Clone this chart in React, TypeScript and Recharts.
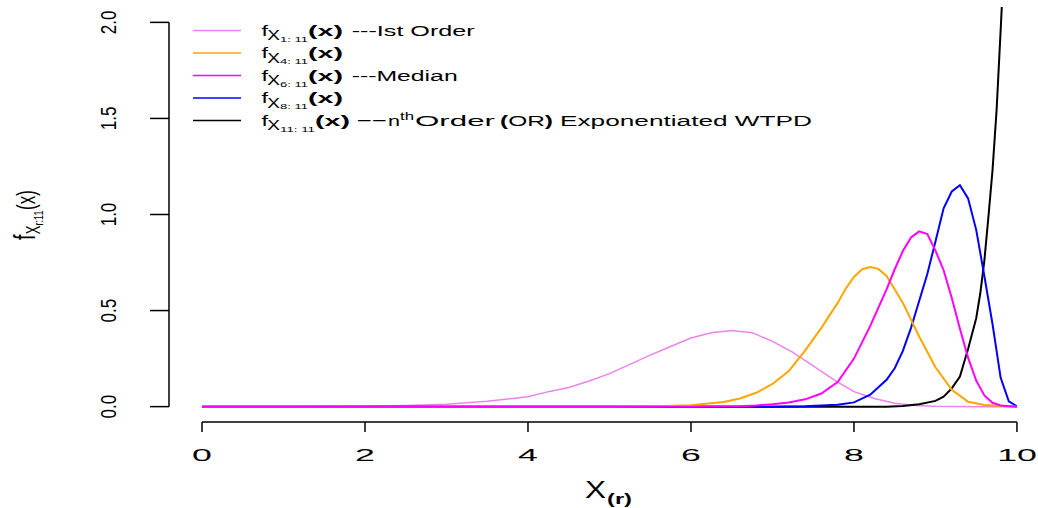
import React from "react";
import { LineChart, Line, XAxis, YAxis, ReferenceLine } from "recharts";

// ---------- data ----------
const xTicks = [0, 2, 4, 6, 8, 10];
const yTicks = [0, 0.5, 1, 1.5, 2];
const yTickLabels = ["0.0", "0.5", "1.0", "1.5", "2.0"];

// f_{X1:11}(x) ---Ist Order (violet)
const order1X = [0, 1, 2, 2.5, 3, 3.5, 4, 4.25, 4.5, 4.75, 5, 5.25, 5.5, 5.75, 6, 6.25, 6.5, 6.75, 7, 7.25, 7.5, 7.75, 8, 8.25, 8.5, 8.75, 9, 9.5, 10];
const order1Y = [0, 0, 0.002, 0.006, 0.013, 0.028, 0.052, 0.078, 0.1, 0.133, 0.172, 0.22, 0.268, 0.313, 0.357, 0.385, 0.396, 0.385, 0.34, 0.282, 0.212, 0.14, 0.078, 0.042, 0.018, 0.006, 0.002, 0, 0];

// f_{X4:11}(x) (orange)
const order4X = [0, 5, 5.6, 6.0, 6.4, 6.6, 6.8, 7.0, 7.2, 7.4, 7.6, 7.8, 7.9, 8.0, 8.1, 8.2, 8.3, 8.4, 8.6, 8.8, 9.0, 9.2, 9.4, 9.6, 10];
const order4Y = [0, 0, 0.002, 0.007, 0.024, 0.042, 0.072, 0.118, 0.185, 0.292, 0.41, 0.54, 0.615, 0.675, 0.715, 0.726, 0.717, 0.68, 0.54, 0.365, 0.205, 0.088, 0.025, 0.008, 0];

// f_{X6:11}(x) ---Median (magenta)
const order6X = [0, 6, 6.6, 6.8, 7.0, 7.2, 7.4, 7.6, 7.8, 8.0, 8.2, 8.4, 8.5, 8.6, 8.7, 8.8, 8.9, 9.0, 9.1, 9.2, 9.3, 9.4, 9.5, 9.6, 9.7, 9.8, 10];
const order6Y = [0, 0, 0.002, 0.006, 0.013, 0.022, 0.038, 0.068, 0.128, 0.25, 0.42, 0.61, 0.715, 0.81, 0.88, 0.912, 0.898, 0.812, 0.71, 0.565, 0.405, 0.255, 0.135, 0.058, 0.02, 0.006, 0];

// f_{X8:11}(x) (blue)
const order8X = [0, 7, 7.4, 7.8, 8.0, 8.2, 8.4, 8.5, 8.6, 8.7, 8.8, 8.9, 9.0, 9.1, 9.2, 9.3, 9.4, 9.5, 9.6, 9.7, 9.8, 9.9, 10];
const order8Y = [0, 0, 0.002, 0.01, 0.022, 0.062, 0.14, 0.2, 0.29, 0.41, 0.55, 0.69, 0.86, 1.032, 1.12, 1.153, 1.084, 0.92, 0.68, 0.43, 0.15, 0.028, 0.002];

// f_{X11:11}(x) --nth Order (black)
const order11X = [0, 8.4, 8.6, 8.8, 9.0, 9.1, 9.2, 9.3, 9.4, 9.5, 9.55, 9.6, 9.65, 9.7, 9.75, 9.8, 9.85];
const order11Y = [0, 0, 0.003, 0.012, 0.03, 0.052, 0.095, 0.157, 0.3, 0.46, 0.59, 0.76, 0.989, 1.23, 1.543, 1.96, 2.4];

const toPoints = (xs: number[], ys: number[]) => xs.map((x, i) => ({ x, y: ys[i] }));

const series = [
  { key: "o1", data: toPoints(order1X, order1Y), color: "#EE82EE", width: 1.5 },
  { key: "o11", data: toPoints(order11X, order11Y), color: "#000000", width: 2 },
  { key: "o8", data: toPoints(order8X, order8Y), color: "#0000FF", width: 2 },
  { key: "o4", data: toPoints(order4X, order4Y), color: "#FFA500", width: 2 },
  { key: "o6", data: toPoints(order6X, order6Y), color: "#FF00FF", width: 2 },
];

// ---------- layout ----------
const W = 1038;
const H = 508;
const X_MIN = -0.405;
const X_MAX = 10.16;
const Y_MIN = -0.08;
const Y_MAX = 2.08;
const FONT = "'Liberation Sans', Arial, Helvetica, sans-serif";

const XTick = (props: any) => {
  const { x, y, payload } = props;
  return (
    <g transform={`translate(${x},${y + 27}) scale(2.1,1)`}>
      <text textAnchor="middle" fontSize={17} fontFamily={FONT} fill="#000">
        {String(payload.value)}
      </text>
    </g>
  );
};

const YTick = (props: any) => {
  const { x, y, payload } = props;
  const idx = yTicks.indexOf(payload.value);
  const label = idx >= 0 ? yTickLabels[idx] : String(payload.value);
  return (
    <g transform={`translate(${x - 32},${y}) scale(1.25,1) rotate(-90)`}>
      <text textAnchor="middle" fontSize={17} fontFamily={FONT} fill="#000">
        {label}
      </text>
    </g>
  );
};

const legendRows = [
  { color: "#EE82EE", sub: "1: 11", tail: "---Ist Order", tailLen: 123 },
  { color: "#FFA500", sub: "4: 11", tail: "", tailLen: 0 },
  { color: "#FF00FF", sub: "6: 11", tail: "---Median", tailLen: 106 },
  { color: "#0000FF", sub: "8: 11", tail: "", tailLen: 0 },
  { color: "#000000", sub: "11: 11", tail: "", tailLen: 0 },
];

const T = (p: any) => (
  <text
    x={p.x}
    y={p.y}
    fontSize={p.fs}
    fontWeight={p.bold ? "bold" : "normal"}
    fontFamily={FONT}
    fill="#000"
    textLength={p.len}
    lengthAdjust="spacingAndGlyphs"
  >
    {p.children}
  </text>
);

const Overlay = () => {
  const legendTop = 30.6;
  const step = 22.5;
  return (
    <svg width={W} height={H} style={{ position: "absolute", left: 0, top: 0, pointerEvents: "none" }}>
      {legendRows.map((r, i) => {
        const ly = legendTop + i * step;
        const last = i === 4;
        const subLen = last ? 35 : 28;
        const px = last ? 315 : 308;
        return (
          <g key={i}>
            <line x1={193} x2={241} y1={ly} y2={ly} stroke={r.color} strokeWidth={1.5} />
            <T x={261.5} y={ly + 5.3} fs={15.4} len={6.5}>f</T>
            <T x={267.3} y={ly + 9.8} fs={15.4} len={12.7}>X</T>
            <T x={280} y={ly + 11} fs={8} len={subLen}>{r.sub}</T>
            <T x={px} y={ly + 5} fs={15.4} bold len={35}>(x)</T>
            {r.tail ? (
              <T x={351.7} y={ly + 5.3} fs={15.4} len={r.tailLen}>{r.tail}</T>
            ) : null}
            {last ? (
              <g>
                <T x={356.7} y={ly + 5.3} fs={15.4} len={30}>{"\u2212\u2212"}</T>
                <T x={388} y={ly + 5.3} fs={15.4} len={12}>n</T>
                <T x={400} y={ly - 1} fs={10} len={14}>th</T>
                <T x={415} y={ly + 5.3} fs={15.4} len={80}>Order</T>
                <text x={500} y={ly + 5.3} fontSize={15.4} fontFamily={FONT} fill="#000" textLength={53} lengthAdjust="spacingAndGlyphs">
                  <tspan fontWeight="bold">(</tspan>OR<tspan fontWeight="bold">)</tspan>
                </text>
                <T x={560} y={ly + 5.3} fs={15.4} len={252}>Exponentiated WTPD</T>
              </g>
            ) : null}
          </g>
        );
      })}
      {/* y-axis title */}
      <g transform="translate(35,240) scale(1.5,1) rotate(-90)" fontFamily={FONT} fill="#000">
        <text x={0} y={0} fontSize={20}>f</text>
        <text x={5.8} y={3} fontSize={13}>X</text>
        <text x={14.6} y={5.5} fontSize={9}>r:11</text>
        <text x={30} y={0} fontSize={17}>(x)</text>
      </g>
      {/* x-axis title */}
      <g fontFamily={FONT} fill="#000">
        <text x={585} y={498} fontSize={23} textLength={21} lengthAdjust="spacingAndGlyphs">X</text>
        <text x={607} y={504} fontSize={15} fontWeight="bold" textLength={25} lengthAdjust="spacingAndGlyphs">(r)</text>
      </g>
    </svg>
  );
};

export default function App() {
  return (
    <div style={{ position: "absolute", left: 0, top: 0, width: W, height: H, background: "#fff" }}>
      <LineChart width={W} height={H} margin={{ top: 7, right: 8, bottom: 0, left: 0 }}>
        <XAxis
          type="number"
          dataKey="x"
          domain={[X_MIN, X_MAX]}
          allowDataOverflow
          ticks={xTicks}
          interval={0}
          height={86}
          tickSize={10}
          tickLine={{ stroke: "#000", strokeWidth: 1.5 }}
          axisLine={false}
          tick={XTick}
        />
        <YAxis
          type="number"
          domain={[Y_MIN, Y_MAX]}
          allowDataOverflow
          ticks={yTicks}
          interval={0}
          width={169}
          tickSize={19}
          tickLine={{ stroke: "#000", strokeWidth: 1.5 }}
          axisLine={false}
          tick={YTick}
        />
        <ReferenceLine
          segment={[{ x: 0, y: Y_MIN }, { x: 10, y: Y_MIN }]}
          stroke="#000"
          strokeWidth={1.5}
          ifOverflow="visible"
        />
        <ReferenceLine
          segment={[{ x: X_MIN, y: 0 }, { x: X_MIN, y: 2 }]}
          stroke="#000"
          strokeWidth={1.5}
          ifOverflow="visible"
        />
        {series.map((s) => (
          <Line
            key={s.key}
            data={s.data}
            dataKey="y"
            type="linear"
            stroke={s.color}
            strokeWidth={s.width}
            dot={false}
            activeDot={false}
            isAnimationActive={false}
          />
        ))}
      </LineChart>
      <Overlay />
    </div>
  );
}
